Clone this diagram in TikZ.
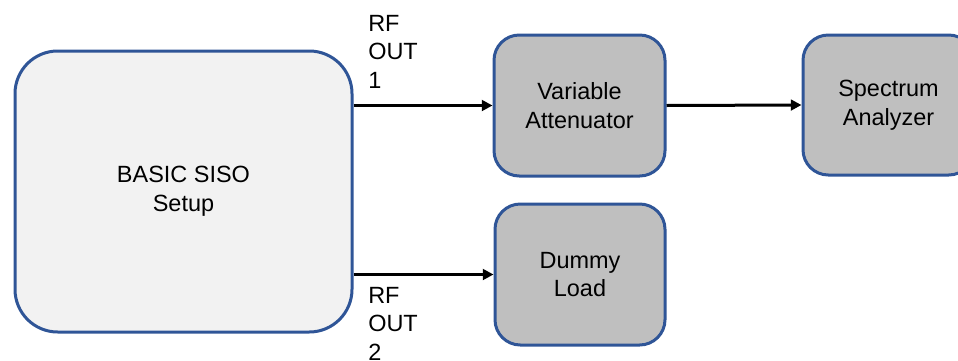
\documentclass[tikz,border=0pt]{standalone}
\usepackage{fontspec}
\setmainfont{Liberation Sans}
\usetikzlibrary{arrows.meta}
\definecolor{edgeblue}{HTML}{2F5597}
\definecolor{boxgray}{HTML}{BFBFBF}
\definecolor{lightfill}{HTML}{F2F2F2}
\begin{document}
\begin{tikzpicture}[x=0.75pt,y=-0.75pt,
  blk/.style={draw=edgeblue,line width=2.25pt,fill=boxgray,rounded corners=19pt,
    align=center,inner sep=0pt,font=\fontsize{17.6}{21.4}\selectfont},
  portlabel/.style={align=left,inner sep=0pt,anchor=north west,
    font=\fontsize{17.6}{21.4}\selectfont},
  link/.style={line width=2.25pt,-{Triangle[length=8pt,width=8pt]}}]
\useasboundingbox (0,0) rectangle (958,361);
% main setup block
\node[blk,fill=lightfill,rounded corners=32pt,minimum width=252.75pt,minimum height=210.75pt]
  (siso) at (183.5,191.5) {BASIC SISO\\Setup};
% instruments
\node[blk,minimum width=128.25pt,minimum height=105.75pt] (att) at (579.5,105.5) {Variable\\Attenuator};
\node[blk,minimum width=128.25pt,minimum height=105pt] (spec) at (888.5,105) {Spectrum\\Analyzer};
\node[blk,minimum width=127.5pt,minimum height=105.75pt] (dummy) at (580,274.5) {Dummy\\Load};
% connections
\draw[link] (siso.east |- att.west) -- (att.west);
\draw[link] (att.east) -- (spec.west);
\draw[link] (siso.east |- dummy.west) -- (dummy.west);
% port labels
\node[portlabel] (rf1) at (368,15) {RF\\OUT\\1};
\node[portlabel] (rf2) at (368,287) {RF\\OUT\\2};
\end{tikzpicture}
\end{document}
